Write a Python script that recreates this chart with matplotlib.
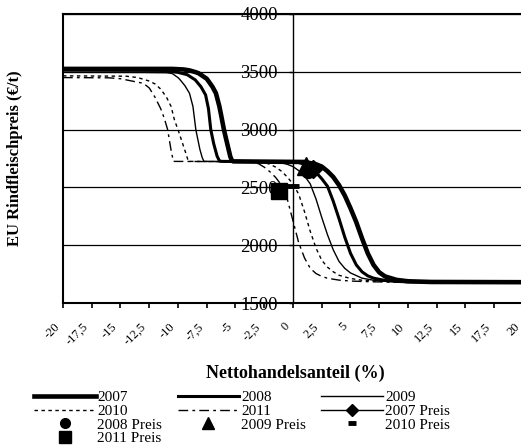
import matplotlib
matplotlib.use("Agg")
import matplotlib.pyplot as plt
from matplotlib.transforms import ScaledTranslation

plt.rcParams['font.family'] = ['Liberation Serif', 'DejaVu Serif']

# Nettohandelsanteil (%) -> EU Rindfleischpreis (EUR/t)
x2007 = [-20, -10.5, -9.5, -9, -8.5, -8.2, -7.5, -7.0, -6.7, -6.4, -6.2, -6.0, -5.7, -5.45, -5.3, -5.2,
         1.0, 2.0, 2.5, 3.0, 3.5, 4.0, 4.5, 5.0, 5.5, 6.0, 6.5, 7.0, 7.5, 8.0, 9.0, 10.0, 12.0, 20]
y2007 = [3525, 3525, 3520, 3512, 3498, 3487, 3440, 3370, 3314, 3200, 3100, 2996, 2870, 2766, 2730, 2725,
         2720, 2700, 2680, 2640, 2590, 2520, 2430, 2320, 2200, 2060, 1930, 1830, 1765, 1730, 1700, 1688, 1682, 1680]

x2008 = [-20, -11.5, -11, -10, -9.2, -8.5, -8.0, -7.6, -7.35, -7.15, -6.9, -6.6, -6.4, -6.2,
         0.0, 0.5, 1.0, 1.5, 2.0, 2.5, 3.0, 3.5, 4.0, 4.5, 5.0, 5.5, 6.0, 6.5, 7.0, 8.0, 9.0, 10.0, 20]
y2008 = [3515, 3512, 3508, 3495, 3475, 3430, 3370, 3300, 3180, 3000, 2880, 2770, 2730, 2725,
         2722, 2715, 2700, 2670, 2630, 2575, 2510, 2380, 2230, 2070, 1930, 1830, 1770, 1735, 1715, 1695, 1687, 1683, 1680]

x2009 = [-20, -13, -11, -10.5, -10, -9.8, -9.4, -9.0, -8.7, -8.45, -8.1, -7.9, -7.75,
         -2.0, -1.0, -0.5, 0.0, 0.5, 1.0, 1.5, 2.0, 2.5, 3.0, 3.5, 4.0, 4.5, 5.0, 6.0, 7.0, 8.0, 10.0, 20]
y2009 = [3495, 3494, 3492, 3485, 3450, 3429, 3380, 3314, 3200, 3000, 2830, 2760, 2725,
         2722, 2712, 2700, 2680, 2645, 2600, 2530, 2400, 2240, 2090, 1960, 1860, 1800, 1760, 1715, 1697, 1688, 1682, 1680]

x2010 = [-20, -14.5, -13.5, -12.5, -12, -11.5, -11, -10.6, -10.3, -10.0, -9.6, -9.3, -9.1,
         -3.0, -2.5, -2.0, -1.5, -1.0, -0.5, 0.0, 0.5, 1.0, 1.5, 2.0, 2.5, 3.0, 3.5, 4.0, 5.0, 6.0, 8.0, 10.0, 20]
y2010 = [3465, 3462, 3450, 3420, 3395, 3350, 3280, 3200, 3080, 3000, 2880, 2790, 2725,
         2722, 2715, 2700, 2675, 2640, 2590, 2530, 2440, 2290, 2120, 1975, 1870, 1810, 1770, 1740, 1712, 1697, 1685, 1681, 1680]

x2011 = [-20, -16, -15, -14, -13, -12.5, -12, -11.5, -11.2, -10.9, -10.6, -10.4,
         -4.0, -3.5, -3.0, -2.5, -2.0, -1.5, -1.0, -0.5, 0.0, 0.5, 1.0, 1.5, 2.0, 2.5, 3.0, 4.0, 5.0, 7.0, 10.0, 20]
y2011 = [3450, 3448, 3440, 3420, 3400, 3360, 3280, 3180, 3100, 3000, 2820, 2725,
         2722, 2718, 2705, 2675, 2635, 2585, 2520, 2400, 2210, 2020, 1890, 1800, 1755, 1730, 1714, 1698, 1690, 1683, 1680, 1680]

# Preise (Punkte)
preis_labels = ['2007 Preis', '2008 Preis', '2009 Preis', '2010 Preis', '2011 Preis']
preis_x = [1.7, 1.3, 1.1, 0.0, -1.25]
preis_y = [2655, 2640, 2685, 2512, 2465]

x_ticks = [-20, -17.5, -15, -12.5, -10, -7.5, -5, -2.5, 0, 2.5, 5, 7.5, 10, 12.5, 15, 17.5, 20]
y_ticks = [1500, 2000, 2500, 3000, 3500, 4000]

fig = plt.figure(figsize=(5.21, 4.48), dpi=100)
ax = fig.add_axes([63 / 521, 1 - 303 / 448, 460 / 521, 289 / 448])

l07, = ax.plot(x2007, y2007, color='black', lw=3.3, label='2007')
l08, = ax.plot(x2008, y2008, color='black', lw=2.2, label='2008')
l09, = ax.plot(x2009, y2009, color='black', lw=1.0, label='2009')
l10, = ax.plot(x2010, y2010, color='black', lw=1.0, ls=(0, (2.5, 2.5)), label='2010')
l11, = ax.plot(x2011, y2011, color='black', lw=1.0, ls=(0, (7, 3, 2, 3)), label='2011')

m07, = ax.plot(preis_x[0], preis_y[0], color='black', lw=1.0, marker='D', ms=9, label=preis_labels[0])
m08, = ax.plot(preis_x[1], preis_y[1], color='black', ls='none', marker='o', ms=10, label=preis_labels[1])
m09, = ax.plot(preis_x[2], preis_y[2], color='black', ls='none', marker='^', ms=13, label=preis_labels[2])
m10, = ax.plot(preis_x[3], preis_y[3], color='black', ls='none', marker='_', ms=8, mew=3.5, label=preis_labels[3])
m11, = ax.plot(preis_x[4], preis_y[4], color='black', ls='none', marker='s', ms=12, label=preis_labels[4])

ax.set_xlim(-20, 20)
ax.set_ylim(1500, 4000)
ax.spines['left'].set_position(('data', 0))
ax.spines['left'].set_linewidth(1.0)
ax.spines['right'].set_visible(False)
ax.spines['top'].set_linewidth(1.5)
ax.spines['bottom'].set_linewidth(1.5)
ax.axvline(-20, color='black', lw=1.5, clip_on=False)

ax.set_yticks(y_ticks)
ax.set_yticklabels([str(v) for v in y_ticks], fontsize=13.5)
ax.tick_params(axis='y', direction='out', length=3, width=1, pad=8)
ax.yaxis.grid(True, color='black', lw=0.9)

ax.set_xticks(x_ticks)
ax.set_xticklabels([('%g' % v).replace('.', ',') for v in x_ticks], fontsize=9,
                   rotation=45, ha='right', va='center', rotation_mode='anchor')
ax.tick_params(axis='x', direction='out', length=3.6, width=1.2, pad=12.2)
shift = ScaledTranslation(-5 / 100, 0, fig.dpi_scale_trans)
for lab in ax.get_xticklabels():
    lab.set_transform(lab.get_transform() + shift)

ax.set_xlabel('Nettohandelsanteil (%)', fontsize=13, fontweight='bold')
ax.xaxis.set_label_coords(0.505, -0.214)
ax.set_ylabel('EU Rindfleischpreis (€/t)', fontsize=12, fontweight='bold')
ax.yaxis.set_label_coords(-0.087, 0.5)

fig.legend(handles=[l07, l10, m08, m11, l08, l11, m09, l09, m07, m10], ncol=3,
           loc='upper left', bbox_to_anchor=(0.0646, 0.128), frameon=False, fontsize=11,
           handlelength=4.05, handletextpad=0.12, columnspacing=1.0, labelspacing=0.0,
           borderpad=0, borderaxespad=0, markerscale=0.7)

fig.savefig('out.png', dpi=100)
